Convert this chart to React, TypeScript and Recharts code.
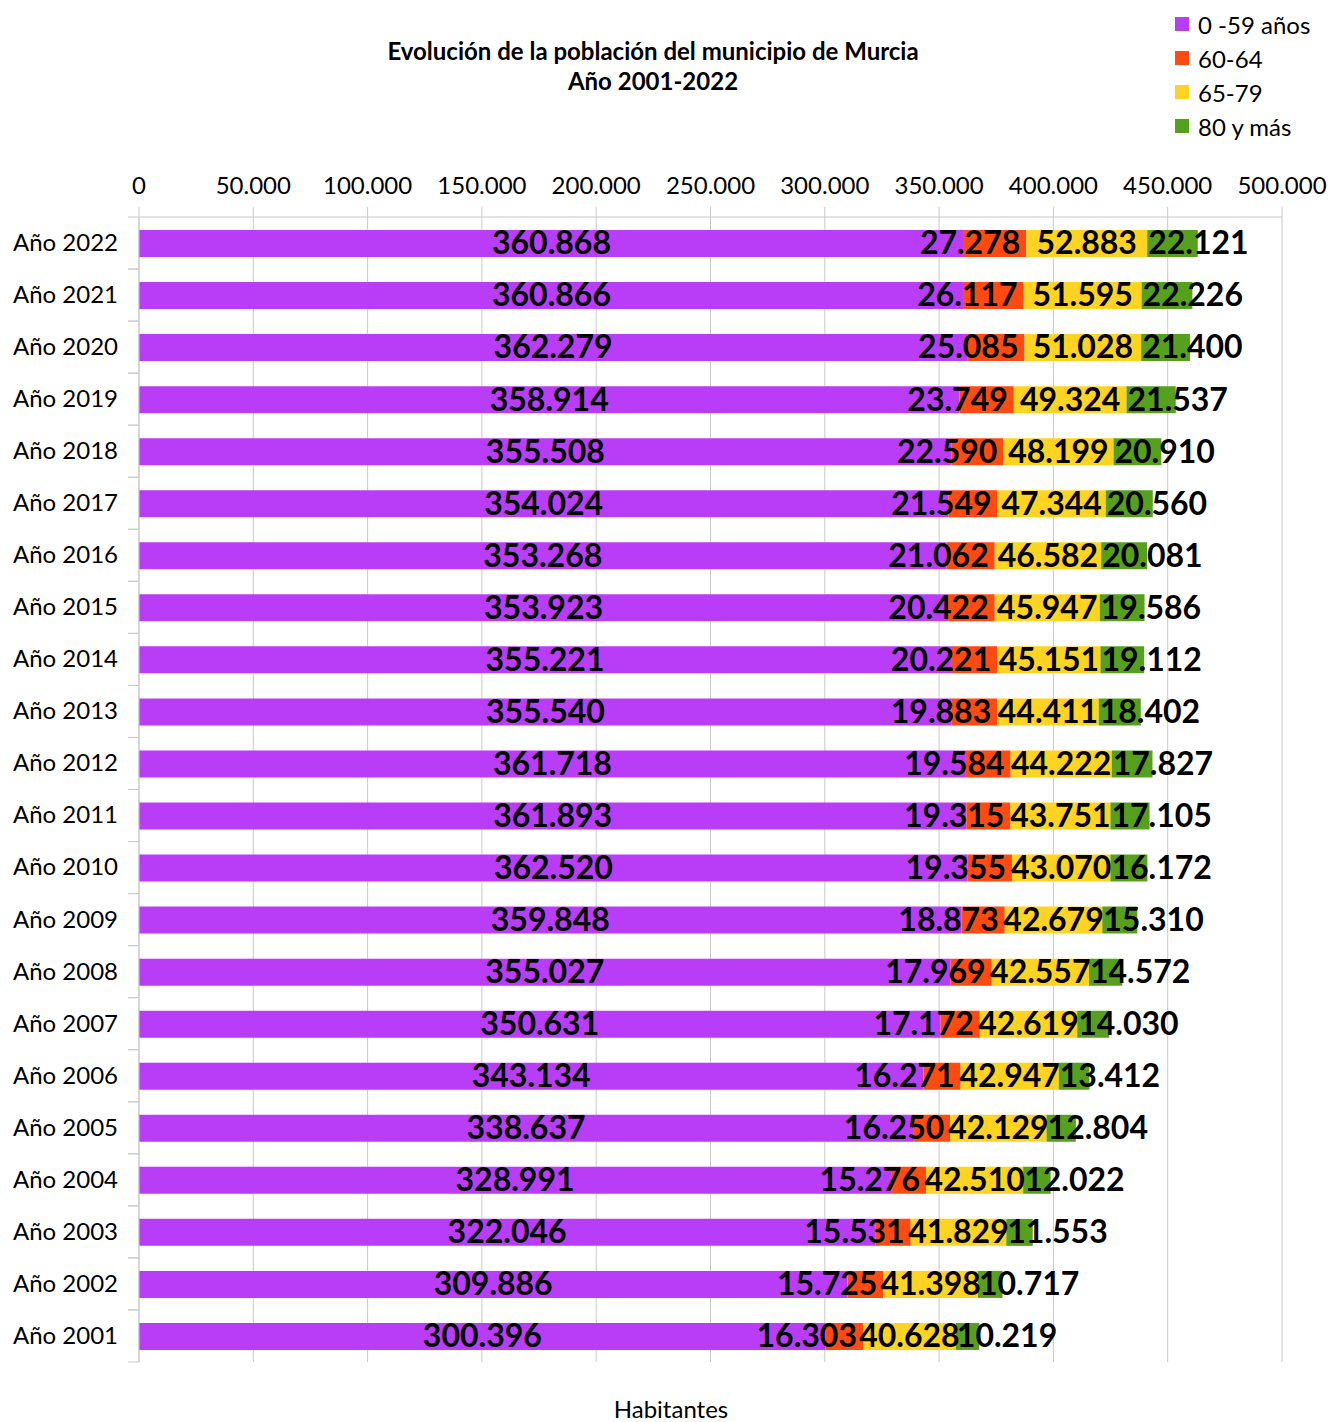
import React from "react";
import { BarChart, Bar, XAxis, YAxis, CartesianGrid, LabelList } from "recharts";

const years = [
  "Año 2022", "Año 2021", "Año 2020", "Año 2019", "Año 2018", "Año 2017",
  "Año 2016", "Año 2015", "Año 2014", "Año 2013", "Año 2012", "Año 2011",
  "Año 2010", "Año 2009", "Año 2008", "Año 2007", "Año 2006", "Año 2005",
  "Año 2004", "Año 2003", "Año 2002", "Año 2001",
];
const g0_59 = [
  360868, 360866, 362279, 358914, 355508, 354024, 353268, 353923, 355221, 355540, 361718,
  361893, 362520, 359848, 355027, 350631, 343134, 338637, 328991, 322046, 309886, 300396,
];
const g60_64 = [
  27278, 26117, 25085, 23749, 22590, 21549, 21062, 20422, 20221, 19883, 19584,
  19315, 19355, 18873, 17969, 17172, 16271, 16250, 15276, 15531, 15725, 16303,
];
const g65_79 = [
  52883, 51595, 51028, 49324, 48199, 47344, 46582, 45947, 45151, 44411, 44222,
  43751, 43070, 42679, 42557, 42619, 42947, 42129, 42510, 41829, 41398, 40628,
];
const g80 = [
  22121, 22226, 21400, 21537, 20910, 20560, 20081, 19586, 19112, 18402, 17827,
  17105, 16172, 15310, 14572, 14030, 13412, 12804, 12022, 11553, 10717, 10219,
];
const xTicks = [0, 50000, 100000, 150000, 200000, 250000, 300000, 350000, 400000, 450000, 500000];

const series = [
  { key: "a", name: "0 -59 años", color: "#B93CF6", align: "center" },
  { key: "b", name: "60-64", color: "#FF4A12", align: "end" },
  { key: "c", name: "65-79", color: "#FFD322", align: "center" },
  { key: "d", name: "80 y más", color: "#56A01E", align: "start" },
];

const data = years.map((name, i) => ({
  name,
  a: g0_59[i],
  b: g60_64[i],
  c: g65_79[i],
  d: g80[i],
}));

const FONT = "Lato, 'Open Sans', sans-serif";
const GRID = "#c9c9c9";

const fmt = (v: number) => String(Math.round(v)).replace(/\B(?=(\d{3})+(?!\d))/g, ".");

const makeLabel = (align: string) => (props: any) => {
  const { x, y, width, height, value } = props;
  let tx = x + width / 2;
  let anchor: "middle" | "end" | "start" = "middle";
  if (align === "end") {
    tx = x + width - 6;
    anchor = "end";
  } else if (align === "start") {
    tx = x + 1;
    anchor = "start";
  }
  return (
    <text
      x={tx}
      y={y + height / 2}
      dy="0.34em"
      textAnchor={anchor}
      fontFamily={FONT}
      fontWeight={700}
      fontSize={32}
      fill="#000"
    >
      {fmt(value)}
    </text>
  );
};

const YTick = (props: any) => {
  const { x, y, payload } = props;
  const half = 26;
  return (
    <g>
      <line x1={x + 10} x2={x + 21} y1={y - half} y2={y - half} stroke={GRID} />
      <line x1={x + 10} x2={x + 21} y1={y + half} y2={y + half} stroke={GRID} />
      <text x={x} y={y} dy="0.33em" textAnchor="end" fontFamily={FONT} fontSize={24} fill="#000">
        {payload.value}
      </text>
    </g>
  );
};

const Legend = () => (
  <div style={{ position: "absolute", left: 1175, top: 7, fontFamily: FONT, fontSize: 24 }}>
    {series.map((s) => (
      <div key={s.key} style={{ display: "flex", alignItems: "center", height: 34 }}>
        <div style={{ width: 14, height: 14, background: s.color, marginRight: 9 }} />
        <span>{s.name}</span>
      </div>
    ))}
  </div>
);

export default function App() {
  return (
    <div style={{ position: "absolute", left: 0, top: 0, width: 1330, height: 1422, background: "#fff" }}>
      <div
        style={{
          position: "absolute",
          left: 0,
          width: 1306,
          top: 36,
          textAlign: "center",
          fontFamily: FONT,
          fontWeight: 700,
          fontSize: 24,
          lineHeight: "30px",
        }}
      >
        Evolución de la población del municipio de Murcia
        <br />
        Año 2001-2022
      </div>
      <Legend />
      <BarChart
        width={1330}
        height={1422}
        data={data}
        layout="vertical"
        margin={{ top: 177, right: 48, bottom: 60, left: 14 }}
        barSize={27}
      >
        <CartesianGrid horizontal={false} stroke={GRID} />
        <XAxis
          type="number"
          orientation="top"
          domain={[0, 500000]}
          ticks={xTicks}
          tickFormatter={fmt}
          interval={0}
          height={40}
          tickSize={10}
          tickMargin={13}
          stroke={GRID}
          tick={{ fill: "#000", fontFamily: FONT, fontSize: 24 }}
        />
        <YAxis
          type="category"
          dataKey="name"
          width={125}
          tickLine={false}
          tickSize={0}
          tickMargin={21}
          interval={0}
          stroke={GRID}
          tick={<YTick />}
        />
        {series.map((s) => (
          <Bar key={s.key} dataKey={s.key} name={s.name} stackId="s" fill={s.color} isAnimationActive={false}>
            <LabelList dataKey={s.key} content={makeLabel(s.align)} />
          </Bar>
        ))}
      </BarChart>
      <div
        style={{
          position: "absolute",
          left: 0,
          width: 1342,
          top: 1397,
          textAlign: "center",
          fontFamily: FONT,
          fontSize: 24,
          lineHeight: "24px",
        }}
      >
        Habitantes
      </div>
    </div>
  );
}
